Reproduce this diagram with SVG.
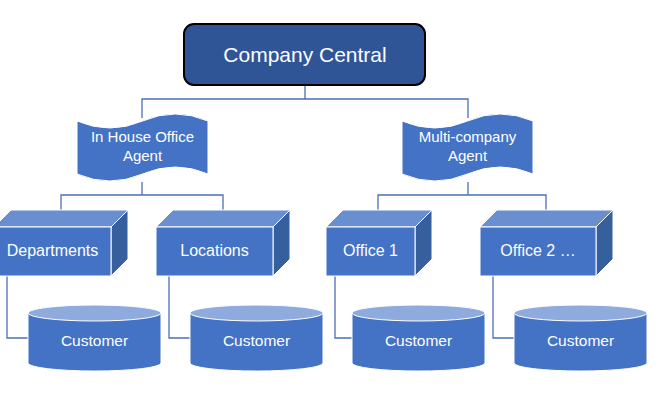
<svg xmlns="http://www.w3.org/2000/svg" width="665" height="414" viewBox="0 0 665 414">
<style>
text{font-family:"Liberation Sans",Arial,sans-serif;fill:#fff;text-anchor:middle}
.conn{fill:none;stroke:#4A70B8;stroke-width:1.3}
.front{fill:#4472C4;stroke:#fff;stroke-width:1}
.top{fill:#6A8FD0;stroke:#fff;stroke-width:1}
.side{fill:#365F9E;stroke:#fff;stroke-width:1}
.cyl{fill:#4472C4;stroke:#fff;stroke-width:1}
.cyltop{fill:#8FAADC;stroke:#fff;stroke-width:1}
.tape{fill:#4472C4;stroke:#fff;stroke-width:1}
.lbl{font-size:15px}
.box{font-size:16px}
.cus{font-size:15.5px}
</style>
<rect width="665" height="414" fill="#fff"/>
<g id="connectors">
<path class="conn" d="M305,85V99M142,118V99H468V118"/>
<path class="conn" d="M142,182V195M61,210V195H223V210"/>
<path class="conn" d="M468,182V195M378,210V195H546V210"/>
<path class="conn" d="M7,276V338H28"/>
<path class="conn" d="M169,276V338H190"/>
<path class="conn" d="M335,276V338H352"/>
<path class="conn" d="M493,276V338H514"/>
</g>
<g id="company-central">
<rect x="184" y="24" width="241" height="61" rx="10" fill="#2F5597" stroke="#000" stroke-width="2"/>
<text x="305" y="61.5" style="font-size:21px">Company Central</text>
</g>
<g id="in-house-agent">
<path class="tape" d="M77,121 Q109.75,135 142.5,121 Q175.25,107 208,121 L208,174 Q175.25,160 142.5,174 Q109.75,188 77,174 Z"/>
<text class="lbl" x="142.5" y="142">In House Office</text>
<text class="lbl" x="142.5" y="161">Agent</text>
</g>
<g id="multi-company-agent">
<path class="tape" d="M402,121 Q434.75,135 467.5,121 Q500.25,107 533,121 L533,174 Q500.25,160 467.5,174 Q434.75,188 402,174 Z"/>
<text class="lbl" x="467.5" y="142">Multi-company</text>
<text class="lbl" x="467.5" y="161">Agent</text>
</g>
<g id="departments">
<polygon class="top" points="-6,227 11,210 128,210 111,227"/>
<polygon class="side" points="111,227 128,210 128,259 111,276"/>
<rect class="front" x="-6" y="227" width="117" height="49"/>
<text class="box" x="52.5" y="255.5">Departments</text>
</g>
<g id="locations">
<polygon class="top" points="156,227 173,210 290,210 273,227"/>
<polygon class="side" points="273,227 290,210 290,259 273,276"/>
<rect class="front" x="156" y="227" width="117" height="49"/>
<text class="box" x="214.5" y="255.5">Locations</text>
</g>
<g id="office-1">
<polygon class="top" points="326,227 343,210 432,210 415,227"/>
<polygon class="side" points="415,227 432,210 432,259 415,276"/>
<rect class="front" x="326" y="227" width="89" height="49"/>
<text class="box" x="370.5" y="255.5">Office 1</text>
</g>
<g id="office-2">
<polygon class="top" points="480,227 497,210 613,210 596,227"/>
<polygon class="side" points="596,227 613,210 613,259 596,276"/>
<rect class="front" x="480" y="227" width="116" height="49"/>
<text class="box" x="538" y="255.5">Office 2 …</text>
</g>
<g id="customer-1">
<path class="cyl" d="M28,313V363A66.5,8 0 0 0 161,363V313Z"/>
<ellipse class="cyltop" cx="94.5" cy="313" rx="66.5" ry="8"/>
<text class="cus" x="94.5" y="346">Customer</text>
</g>
<g id="customer-2">
<path class="cyl" d="M190,313V363A66.5,8 0 0 0 323,363V313Z"/>
<ellipse class="cyltop" cx="256.5" cy="313" rx="66.5" ry="8"/>
<text class="cus" x="256.5" y="346">Customer</text>
</g>
<g id="customer-3">
<path class="cyl" d="M352,313V363A66.5,8 0 0 0 485,363V313Z"/>
<ellipse class="cyltop" cx="418.5" cy="313" rx="66.5" ry="8"/>
<text class="cus" x="418.5" y="346">Customer</text>
</g>
<g id="customer-4">
<path class="cyl" d="M514,313V363A66.5,8 0 0 0 647,363V313Z"/>
<ellipse class="cyltop" cx="580.5" cy="313" rx="66.5" ry="8"/>
<text class="cus" x="580.5" y="346">Customer</text>
</g>
</svg>
